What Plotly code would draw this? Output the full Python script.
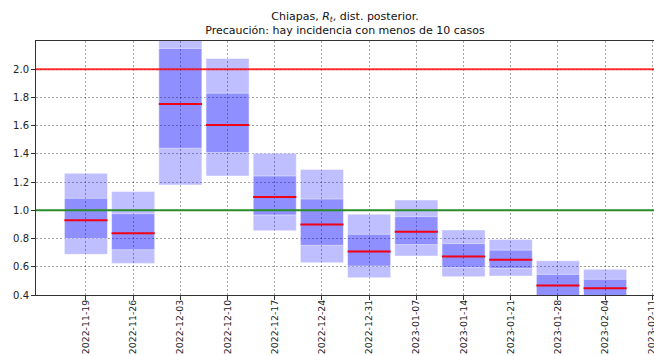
import datetime as dt
import plotly.graph_objects as go

# Weekly Rt posterior summary for Chiapas
weeks = ["2022-11-19", "2022-11-26", "2022-12-03", "2022-12-10", "2022-12-17",
         "2022-12-24", "2022-12-31", "2023-01-07", "2023-01-14", "2023-01-21",
         "2023-01-28", "2023-02-04"]
median = [0.929, 0.837, 1.753, 1.605, 1.095, 0.900, 0.709, 0.849, 0.672, 0.650, 0.468, 0.447]
inner_lo = [0.800, 0.721, 1.440, 1.409, 0.967, 0.752, 0.605, 0.757, 0.596, 0.589, 0.380, 0.370]
inner_hi = [1.085, 0.976, 2.147, 1.830, 1.243, 1.080, 0.830, 0.955, 0.764, 0.718, 0.546, 0.511]
outer_lo = [0.688, 0.624, 1.180, 1.243, 0.856, 0.629, 0.523, 0.676, 0.530, 0.534, 0.330, 0.310]
outer_hi = [1.262, 1.133, 2.300, 2.076, 1.404, 1.290, 0.972, 1.073, 0.861, 0.794, 0.643, 0.582]
tick_dates = weeks + ["2023-02-11"]

BAR_DAYS = 6.4
bar_ms = BAR_DAYS * 24 * 3600 * 1000
dates = [dt.datetime.fromisoformat(d) for d in weeks]

fig = go.Figure()

band_fill = "rgba(0,0,255,0.25)"
edge = dict(color="rgba(255,255,255,0.45)", width=1)

fig.add_trace(go.Bar(
    x=dates, y=[h - l for h, l in zip(outer_hi, outer_lo)], base=outer_lo,
    width=bar_ms, marker=dict(color=band_fill, line=edge), hoverinfo="skip",
))
fig.add_trace(go.Bar(
    x=dates, y=[h - l for h, l in zip(inner_hi, inner_lo)], base=inner_lo,
    width=bar_ms, marker=dict(color=band_fill, line=edge), hoverinfo="skip",
))

# Median segments spanning each bar
half = dt.timedelta(days=BAR_DAYS / 2)
mx, my = [], []
for d, m in zip(dates, median):
    mx += [d - half, d + half, None]
    my += [m, m, None]
fig.add_trace(go.Scatter(x=mx, y=my, mode="lines",
                         line=dict(color="rgb(240,0,20)", width=2), hoverinfo="skip"))

x_lo = dt.datetime(2022, 11, 11, 14, 10)
x_hi = dt.datetime(2023, 2, 11, 6, 0)
fig.add_trace(go.Scatter(x=[x_lo, x_hi], y=[2.0, 2.0], mode="lines",
                         line=dict(color="rgba(255,0,0,0.8)", width=2), hoverinfo="skip"))
fig.add_trace(go.Scatter(x=[x_lo, x_hi], y=[1.0, 1.0], mode="lines",
                         line=dict(color="rgb(40,140,40)", width=2), hoverinfo="skip"))

axis_font = dict(family="DejaVu Sans", size=10, color="#222")
date_font = dict(family="DejaVu Sans", size=9.4, color="#222")
grid = dict(showgrid=True, gridcolor="rgba(0,0,0,0.35)", griddash="2px,2px", gridwidth=0.8)
fig.update_layout(
    width=654, height=356,
    margin=dict(l=36, r=0, t=41, b=61, autoexpand=False),
    paper_bgcolor="white", plot_bgcolor="white",
    showlegend=False, barmode="overlay",
    title=dict(
        text="Chiapas, <i>R</i><sub><i>t</i></sub>, dist. posterior.<br>"
             "Precaución: hay incidencia con menos de 10 casos",
        x=0.5275, xanchor="center", y=0.945, yanchor="top", yref="container",
        font=dict(family="DejaVu Sans", size=11, color="#111"),
    ),
    xaxis=dict(
        type="date", range=[x_lo, x_hi], automargin=False,
        tickvals=tick_dates, ticktext=tick_dates, tickangle=-90,
        ticklabeloverflow="allow", ticklabelstandoff=-4,
        tickfont=date_font, ticks="outside", ticklen=4, tickcolor="#333",
        showline=True, linecolor="#333", linewidth=1, mirror=True,
        zeroline=False, **grid,
    ),
    yaxis=dict(
        range=[0.4, 2.2], automargin=False,
        tickvals=[0.4, 0.6, 0.8, 1.0, 1.2, 1.4, 1.6, 1.8, 2.0],
        tickformat=".1f", tickfont=axis_font, ticks="outside", ticklen=4, tickcolor="#333",
        showline=True, linecolor="#333", linewidth=1,
        zeroline=False, **grid,
    ),
)

fig.write_html("out.html")
